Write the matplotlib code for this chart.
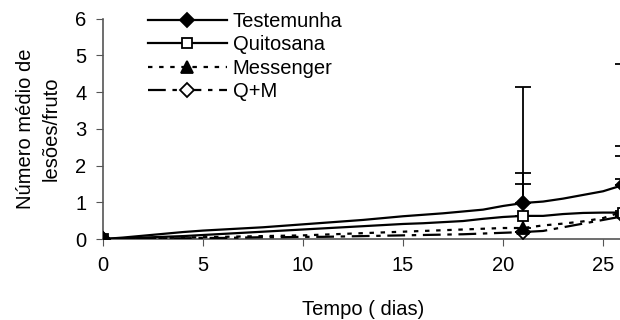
import matplotlib
matplotlib.use('Agg')
import matplotlib.pyplot as plt

plt.rcParams['font.family'] = ['Liberation Sans', 'DejaVu Sans']

days = list(range(27))
testemunha = [0, 0.04, 0.09, 0.14, 0.19, 0.23, 0.26, 0.29, 0.32, 0.36, 0.40, 0.44, 0.48, 0.52, 0.57, 0.62,
              0.66, 0.70, 0.75, 0.80, 0.90, 0.98, 1.02, 1.10, 1.20, 1.30, 1.47]
quitosana = [0, 0.02, 0.04, 0.06, 0.08, 0.11, 0.14, 0.17, 0.20, 0.23, 0.26, 0.29, 0.32, 0.35, 0.38, 0.41,
             0.43, 0.46, 0.49, 0.55, 0.60, 0.63, 0.63, 0.68, 0.71, 0.72, 0.72]
messenger = [0, 0.01, 0.02, 0.03, 0.04, 0.05, 0.06, 0.07, 0.08, 0.09, 0.10, 0.12, 0.14, 0.16, 0.18, 0.20,
             0.22, 0.24, 0.26, 0.28, 0.30, 0.30, 0.37, 0.42, 0.48, 0.57, 0.75]
q_m = [0, 0.01, 0.01, 0.02, 0.02, 0.03, 0.03, 0.04, 0.05, 0.05, 0.06, 0.06, 0.07, 0.08, 0.09, 0.10,
       0.11, 0.12, 0.13, 0.15, 0.17, 0.19, 0.22, 0.32, 0.42, 0.52, 0.62]

err_days = [21, 26]
err_testemunha = [3.16, 3.30]
err_quitosana = [1.17, 1.81]
err_messenger = [1.20, 1.51]
err_q_m = [0.0, 1.01]

fig = plt.figure(figsize=(6.2, 3.2), dpi=100)
ax = fig.add_axes([0.166, 0.253, 0.839, 0.689])

series = [
    ('Testemunha', testemunha, err_testemunha, '-', 'D', 'black', 7.5, 6),
    ('Quitosana', quitosana, err_quitosana, '-', 's', 'white', 7.5, 5),
    ('Messenger', messenger, err_messenger, (0, (2, 3)), '^', 'black', 8.5, 4),
    ('Q+M', q_m, err_q_m, (0, (8, 3, 2, 3)), 'D', 'white', 7.5, 3),
]

for name, vals, err, ls, mk, fc, ms, z in series:
    ax.plot(days, vals, color='black', lw=1.6, ls=ls, marker=mk, markevery=[0, 21, 26],
            markersize=ms, markerfacecolor=fc, markeredgecolor='black',
            markeredgewidth=1.3, label=name, zorder=z)
    ys = [vals[d] for d in err_days]
    ax.errorbar(err_days, ys, yerr=[[0] * len(err), err], fmt='none', ecolor='black',
                elinewidth=1.3, capsize=6, capthick=1.3, zorder=2)

ax.set_xlim(0, 26)
ax.set_ylim(0, 6)
ax.set_xticks([0, 5, 10, 15, 20, 25])
ax.set_yticks(range(7))
ax.spines['top'].set_visible(False)
ax.spines['right'].set_visible(False)
for s in ('left', 'bottom'):
    ax.spines[s].set_color('#555555')
    ax.spines[s].set_linewidth(1.2)
ax.tick_params(colors='#555555', labelcolor='black', labelsize=14.5, length=5, pad=7)
ax.set_xlabel('Tempo ( dias)', fontsize=14.5, labelpad=18)
ax.set_ylabel('Número médio de\nlesões/fruto', fontsize=14.5, labelpad=10, linespacing=1.45)

ax.legend(loc='upper left', bbox_to_anchor=(0.226, 0.989), bbox_transform=fig.transFigure,
          frameon=False, fontsize=14.5, handlelength=3.9, handletextpad=0.3,
          labelspacing=0.23, numpoints=1, borderaxespad=0)

fig.savefig('out.png', dpi=100)
